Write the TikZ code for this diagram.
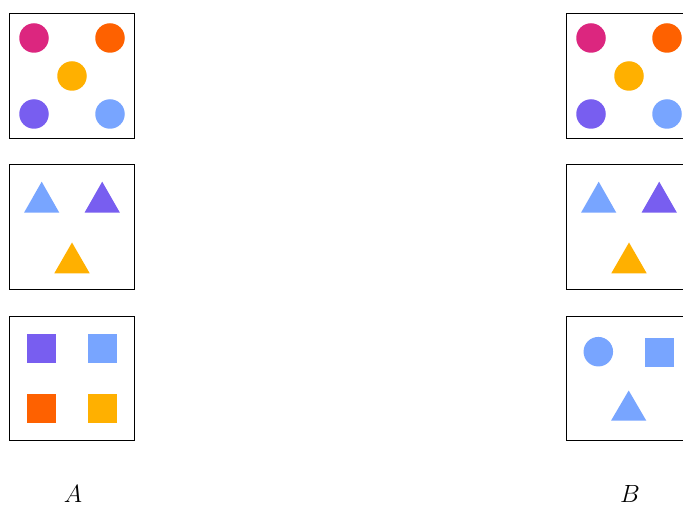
\documentclass[tikz,border=0pt]{standalone}
\definecolor{cmag}{HTML}{DC267F}
\definecolor{corg}{HTML}{FE6100}
\definecolor{cgold}{HTML}{FFB000}
\definecolor{cpur}{HTML}{785EF0}
\definecolor{cblue}{HTML}{78A5FF}
\begin{document}
\begin{tikzpicture}[x=1pt,y=-1pt,
  panel/.style={draw=black,line width=0.9pt,fill=white},
  dot/.style={circle,inner sep=0pt,minimum size=29.5pt},
  tri/.style={},
  lbl/.style={font=\fontsize{32}{38}\selectfont,inner sep=0pt,anchor=base}]
\useasboundingbox (0,0) rectangle (683,505);
% Panel A1
\draw[panel] (9.5,13.5) rectangle (134,138);
\node[dot,fill=cmag] (a1) at (34,38) {};
\node[dot,fill=corg] (a2) at (110,38) {};
\node[dot,fill=cgold] (a3) at (72,76) {};
\node[dot,fill=cpur] (a4) at (34,114) {};
\node[dot,fill=cblue] (a5) at (110,114) {};
% Panel A2
\draw[panel] (9.5,164.5) rectangle (134,289.5);
\fill[cblue] (24,212.7) -- (41.7,181.7) -- (59.3,212.7) -- cycle;
\fill[cpur] (84.5,212.7) -- (102.2,181.7) -- (119.9,212.7) -- cycle;
\fill[cgold] (54.3,273.3) -- (72,242.5) -- (89.7,273.3) -- cycle;
% Panel A3
\draw[panel] (9.5,316) rectangle (134,440.5);
\fill[cpur] (27,334) rectangle (56,362.7);
\fill[cblue] (88,334) rectangle (117,362.7);
\fill[corg] (27,394) rectangle (56,422.7);
\fill[cgold] (88,394) rectangle (117,422.7);
% Panel B1
\draw[panel] (566.5,13.5) rectangle (691,138);
\node[dot,fill=cmag] (b1) at (591,38) {};
\node[dot,fill=corg] (b2) at (667,38) {};
\node[dot,fill=cgold] (b3) at (629,76) {};
\node[dot,fill=cpur] (b4) at (591,114) {};
\node[dot,fill=cblue] (b5) at (667,114) {};
% Panel B2
\draw[panel] (566.5,164.5) rectangle (691,289.5);
\fill[cblue] (581,212.7) -- (598.7,181.7) -- (616.3,212.7) -- cycle;
\fill[cpur] (641.5,212.7) -- (659.2,181.7) -- (676.9,212.7) -- cycle;
\fill[cgold] (611.3,273.3) -- (629,242.5) -- (646.7,273.3) -- cycle;
% Panel B3
\draw[panel] (566.5,316) rectangle (691,440.5);
\node[dot,fill=cblue] (b6) at (598.3,351.7) {};
\fill[cblue] (645,338) rectangle (674,366.7);
\fill[cblue] (611,420.7) -- (628.7,390.5) -- (646.3,420.7) -- cycle;
% Labels
\node[lbl] (la) at (73,502.5) {$A$};
\node[lbl] (lb) at (630,502.5) {$B$};
\end{tikzpicture}
\end{document}
